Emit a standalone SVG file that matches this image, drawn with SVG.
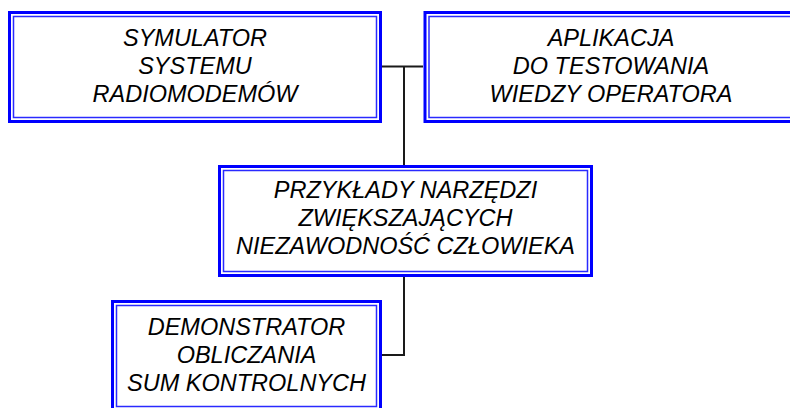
<svg xmlns="http://www.w3.org/2000/svg" width="790" height="408" viewBox="0 0 790 408">
  <style>
    .outer { fill: #ffffff; stroke: #0000ff; stroke-width: 3; }
    .inner { fill: none; stroke: #2a2aff; stroke-width: 1.5; }
    .label { font-family: "Liberation Sans", Arial, sans-serif; font-style: italic; font-size: 23.5px; fill: #000000; text-anchor: middle; }
    .wire { fill: none; stroke: #1a1a1a; stroke-width: 2; }
  </style>
  <rect width="790" height="408" fill="#ffffff"/>

  <g id="connectors">
    <path class="wire" d="M382,66.5 H423"/>
    <path class="wire" d="M404,66.5 V165"/>
    <path class="wire" d="M404,277 V355 H382"/>
  </g>

  <g id="symulator">
    <rect class="outer" x="9.5" y="12.5" width="371" height="109"/>
    <rect class="inner" x="13.5" y="16.5" width="363" height="101"/>
    <text class="label" x="195" y="46">SYMULATOR</text>
    <text class="label" x="195" y="74">SYSTEMU</text>
    <text class="label" x="195" y="102">RADIOMODEMÓW</text>
  </g>

  <g id="aplikacja">
    <rect class="outer" x="425" y="12.5" width="371" height="109"/>
    <rect class="inner" x="429" y="16.5" width="363" height="101"/>
    <text class="label" x="611" y="46">APLIKACJA</text>
    <text class="label" x="611" y="74">DO TESTOWANIA</text>
    <text class="label" x="611" y="102">WIEDZY OPERATORA</text>
  </g>

  <g id="przyklady">
    <rect class="outer" x="219.5" y="166.5" width="372" height="109"/>
    <rect class="inner" x="223.5" y="170.5" width="364" height="101"/>
    <text class="label" x="405.5" y="198">PRZYKŁADY NARZĘDZI</text>
    <text class="label" x="405.5" y="226">ZWIĘKSZAJĄCYCH</text>
    <text class="label" x="405.5" y="254">NIEZAWODNOŚĆ CZŁOWIEKA</text>
  </g>

  <g id="demonstrator">
    <rect class="outer" x="112.5" y="301.5" width="268" height="109"/>
    <rect class="inner" x="116.5" y="305.5" width="260" height="101"/>
    <text class="label" x="246.5" y="335">DEMONSTRATOR</text>
    <text class="label" x="246.5" y="363">OBLICZANIA</text>
    <text class="label" x="246.5" y="391">SUM KONTROLNYCH</text>
  </g>
</svg>
